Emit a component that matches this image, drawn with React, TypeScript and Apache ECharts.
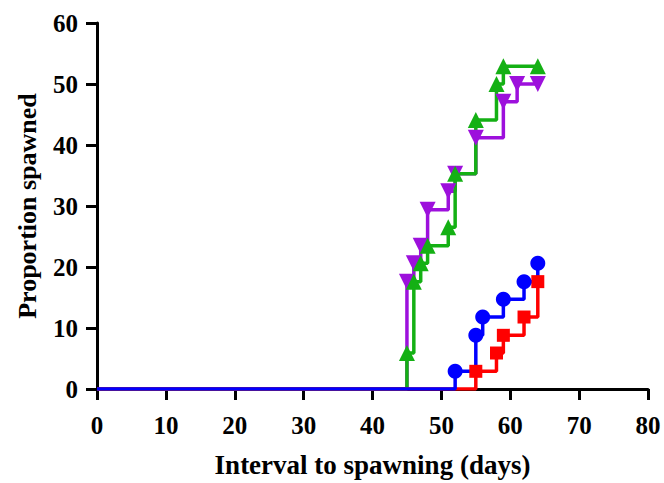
import React, { useEffect, useRef } from "react";
import * as echarts from "echarts";

// Kaplan–Meier style cumulative spawning curves (x = day, y = proportion spawned %)
const purpleX = [45, 46, 47, 48, 51, 52, 55, 59, 61, 64];
const purpleY = [17.6, 20.6, 23.5, 29.4, 32.4, 35.3, 41.2, 47.1, 50.0, 50.0];

const greenX = [45, 46, 47, 48, 51, 52, 55, 58, 59, 64];
const greenY = [5.9, 17.6, 20.6, 23.5, 26.5, 35.3, 44.1, 50.0, 52.9, 52.9];

const redX = [55, 58, 59, 62, 64];
const redY = [2.9, 5.9, 8.8, 11.8, 17.6];

const blueX = [52, 55, 56, 59, 62, 64];
const blueY = [2.9, 8.8, 11.8, 14.7, 17.6, 20.6];

const xTicks = [0, 10, 20, 30, 40, 50, 60, 70, 80];
const yTicks = [0, 10, 20, 30, 40, 50, 60];

const PURPLE = "#9d10dc";
const GREEN = "#14b014";
const RED = "#ff0000";
const BLUE = "#0000ff";

const FONT = "'Liberation Serif', 'Times New Roman', serif";

function pts(xs: number[], ys: number[]) {
  return xs.map((x, i) => [x, ys[i]]);
}

function lineSeries(name: string, xs: number[], ys: number[], color: string, z: number) {
  return {
    name: name + "-line",
    type: "line",
    step: "end",
    data: [[0, 0], ...pts(xs, ys)],
    showSymbol: false,
    symbol: "none",
    lineStyle: { color, width: 3.5 },
    z,
    silent: true,
  };
}

function markerSeries(
  name: string,
  xs: number[],
  ys: number[],
  color: string,
  symbol: string,
  size: number,
  rotate: number
) {
  return {
    name: name + "-marks",
    type: "scatter",
    data: pts(xs, ys),
    symbol,
    symbolSize: size,
    symbolRotate: rotate,
    itemStyle: { color, opacity: 1 },
    z: 10,
    silent: true,
  };
}

export default function App() {
  const ref = useRef<HTMLDivElement>(null);

  useEffect(() => {
    if (!ref.current) return;
    const chart = echarts.init(ref.current, undefined, { renderer: "svg" });
    chart.setOption({
      animation: false,
      backgroundColor: "#ffffff",
      grid: {
        left: 97,
        right: 16,
        top: 23,
        bottom: 94,
        containLabel: false,
        outerBoundsMode: "none",
      },
      xAxis: {
        type: "value",
        min: xTicks[0],
        max: xTicks[xTicks.length - 1],
        interval: 10,
        name: "Interval to spawning (days)",
        nameLocation: "middle",
        nameGap: 62,
        nameTextStyle: { fontFamily: FONT, fontWeight: "bold", fontSize: 27, color: "#000" },
        axisLine: { show: true, lineStyle: { color: "#000", width: 3 } },
        axisTick: { show: true, length: 11, lineStyle: { color: "#000", width: 3 } },
        axisLabel: { fontFamily: FONT, fontWeight: "bold", fontSize: 25, color: "#000", margin: 24 },
        splitLine: { show: false },
      },
      yAxis: {
        type: "value",
        min: yTicks[0],
        max: yTicks[yTicks.length - 1],
        interval: 10,
        name: "Proportion spawned",
        nameLocation: "middle",
        nameGap: 57,
        nameTextStyle: { fontFamily: FONT, fontWeight: "bold", fontSize: 26, color: "#000" },
        axisLine: { show: true, lineStyle: { color: "#000", width: 3 } },
        axisTick: { show: true, length: 11, lineStyle: { color: "#000", width: 3 } },
        axisLabel: { fontFamily: FONT, fontWeight: "bold", fontSize: 25, color: "#000", margin: 19 },
        splitLine: { show: false },
      },
      series: [
        lineSeries("purple", purpleX, purpleY, PURPLE, 2),
        lineSeries("green", greenX, greenY, GREEN, 3),
        lineSeries("red", redX, redY, RED, 4),
        lineSeries("blue", blueX, blueY, BLUE, 5),
        markerSeries("purple", purpleX, purpleY, PURPLE, "triangle", 16, 180),
        markerSeries("green", greenX, greenY, GREEN, "triangle", 16, 0),
        markerSeries("red", redX, redY, RED, "rect", 13, 0),
        markerSeries("blue", blueX, blueY, BLUE, "circle", 15, 0),
      ],
    });
    return () => chart.dispose();
  }, []);

  return (
    <div
      ref={ref}
      style={{ position: "fixed", left: 0, top: 0, width: 664, height: 483, background: "#fff" }}
    />
  );
}
